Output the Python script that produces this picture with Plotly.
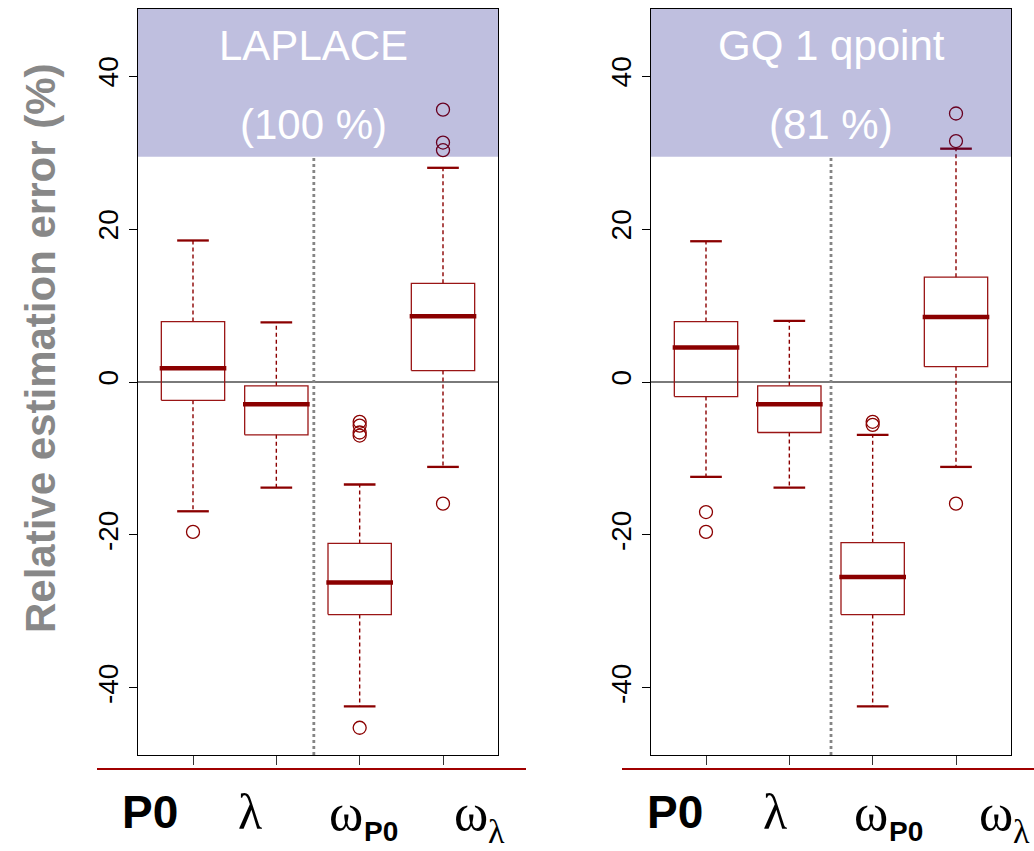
import plotly.graph_objects as go

W, H = 1034, 851

# ---------------- data ----------------
categories = ["P0", "λ", "ωP0", "ωλ"]
positions = [1, 2, 3, 4]
y_ticks = [-40, -20, 0, 20, 40]
y_tick_text = ["-40", "-20", "0", "20", "40"]

panel_titles = ["LAPLACE", "GQ 1 qpoint"]
panel_rates = ["(100 %)", "(81 %)"]

lap_q1 = [-2.4, -6.9, -30.4, 1.5]
lap_med = [1.8, -2.9, -26.2, 8.6]
lap_q3 = [7.9, -0.5, -21.1, 12.9]
lap_lo = [-16.9, -13.8, -42.4, -11.1]
lap_hi = [18.5, 7.8, -13.4, 28.0]
lap_out = [[-19.6], [], [-5.2, -5.7, -6.6, -7.0, -45.2], [35.6, 31.3, 30.3, -15.9]]

gq_q1 = [-1.9, -6.6, -30.4, 2.0]
gq_med = [4.5, -2.9, -25.5, 8.5]
gq_q3 = [7.9, -0.5, -21.0, 13.7]
gq_lo = [-12.4, -13.8, -42.4, -11.1]
gq_hi = [18.4, 8.0, -6.9, 30.5]
gq_out = [[-17.0, -19.6], [], [-5.2, -5.6], [35.1, 31.5, -15.9]]

panels = [
    dict(q1=lap_q1, med=lap_med, q3=lap_q3, lo=lap_lo, hi=lap_hi, out=lap_out),
    dict(q1=gq_q1, med=gq_med, q3=gq_q3, lo=gq_lo, hi=gq_hi, out=gq_out),
]

# ---------------- styling ----------------
DARKRED = "#8B0000"
XR = [0.34, 4.66]
YR = [-48.76, 48.76]
HEADER_Y = 29.45
BOXW = 0.38
CAPW = 0.19


def px_x(p):
    return p / W


def px_y(p):
    return 1 - p / H


x_domains = [[px_x(138), px_x(498)], [px_x(651), px_x(1011)]]
y_domain = [px_y(755), px_y(9)]
divider_x = [2.45, 2.5]
header_text_x = [2.44, 2.5]

fig = go.Figure()

for k, d in enumerate(panels):
    xa = "x" if k == 0 else "x2"
    ya = "y" if k == 0 else "y2"
    bx, by, mx, my, wx, wy, cx, cy, ox, oy = [], [], [], [], [], [], [], [], [], []
    for i, p in enumerate(positions):
        bx += [p - BOXW, p + BOXW, p + BOXW, p - BOXW, p - BOXW, None]
        by += [d["q1"][i], d["q1"][i], d["q3"][i], d["q3"][i], d["q1"][i], None]
        mx += [p - BOXW - 0.02, p + BOXW + 0.02, None]
        my += [d["med"][i], d["med"][i], None]
        wx += [p, p, None, p, p, None]
        wy += [d["q3"][i], d["hi"][i], None, d["q1"][i], d["lo"][i], None]
        cx += [p - CAPW, p + CAPW, None, p - CAPW, p + CAPW, None]
        cy += [d["hi"][i], d["hi"][i], None, d["lo"][i], d["lo"][i], None]
        for v in d["out"][i]:
            ox.append(p)
            oy.append(v)
    fig.add_trace(go.Scatter(x=wx, y=wy, mode="lines", xaxis=xa, yaxis=ya,
                             line=dict(color=DARKRED, width=1.4, dash="4px,3px"),
                             hoverinfo="skip", showlegend=False))
    fig.add_trace(go.Scatter(x=cx, y=cy, mode="lines", xaxis=xa, yaxis=ya,
                             line=dict(color=DARKRED, width=2.3),
                             hoverinfo="skip", showlegend=False))
    fig.add_trace(go.Scatter(x=bx, y=by, mode="lines", xaxis=xa, yaxis=ya,
                             line=dict(color="#9a1515", width=1.3),
                             hoverinfo="skip", showlegend=False))
    fig.add_trace(go.Scatter(x=mx, y=my, mode="lines", xaxis=xa, yaxis=ya,
                             line=dict(color=DARKRED, width=4.5),
                             hoverinfo="skip", showlegend=False))
    fig.add_trace(go.Scatter(x=ox, y=oy, mode="markers", xaxis=xa, yaxis=ya,
                             marker=dict(symbol="circle-open", size=13,
                                         color=DARKRED, line=dict(width=1.3, color=DARKRED)),
                             hoverinfo="skip", showlegend=False))

    # zero line
    fig.add_shape(type="line", xref=xa, yref=ya, x0=XR[0], x1=XR[1], y0=0, y1=0,
                  line=dict(color="#7a7a7a", width=1.8), layer="below")
    # dotted divider
    fig.add_shape(type="line", xref=xa, yref=ya, x0=divider_x[k], x1=divider_x[k],
                  y0=YR[0], y1=HEADER_Y,
                  line=dict(color="#858585", width=2.8, dash="dot"), layer="below")
    # header band (semi-transparent navy on top)
    fig.add_shape(type="rect", xref=xa, yref=ya, x0=XR[0], x1=XR[1], y0=HEADER_Y, y1=YR[1],
                  fillcolor="rgba(0,0,128,0.25)", line=dict(width=0), layer="above")
    fig.add_annotation(xref=xa, yref=ya, x=header_text_x[k], y=44.0, text=panel_titles[k],
                       showarrow=False, xanchor="center", yanchor="middle",
                       font=dict(family="Liberation Sans", size=42, color="white"))
    fig.add_annotation(xref=xa, yref=ya, x=header_text_x[k], y=33.6, text=panel_rates[k],
                       showarrow=False, xanchor="center", yanchor="middle",
                       font=dict(family="Liberation Sans", size=42, color="white"))

axis_common_y = dict(range=YR, tickvals=y_ticks, ticktext=y_tick_text, tickangle=-90,
                     ticks="outside", ticklen=8, tickcolor="black", tickwidth=1,
                     showline=True, mirror=True, linecolor="black", linewidth=1,
                     showgrid=False, zeroline=False, domain=y_domain,
                     tickfont=dict(family="Liberation Sans", size=28, color="black"))
axis_common_x = dict(range=XR, tickvals=positions, showticklabels=False,
                     ticks="outside", ticklen=9, tickcolor="#333333", tickwidth=1,
                     showline=True, mirror=True, linecolor="black", linewidth=1,
                     showgrid=False, zeroline=False)

fig.update_layout(
    width=W, height=H, margin=dict(l=0, r=0, t=0, b=0),
    paper_bgcolor="white", plot_bgcolor="white", showlegend=False,
    xaxis=dict(domain=x_domains[0], anchor="y", **axis_common_x),
    yaxis=dict(anchor="x", **axis_common_y),
    xaxis2=dict(domain=x_domains[1], anchor="y2", **axis_common_x),
    yaxis2=dict(anchor="x2", **axis_common_y),
)

# y-axis title
fig.add_annotation(xref="paper", yref="paper", x=px_x(40), y=px_y(348),
                   text="<b>Relative estimation error (%)</b>", textangle=-90, showarrow=False,
                   xanchor="center", yanchor="middle",
                   font=dict(family="Liberation Sans", size=42, color="#888888"))

# red baselines under the panels
fig.add_shape(type="line", xref="paper", yref="paper", x0=px_x(97), x1=px_x(526),
              y0=px_y(769), y1=px_y(769), line=dict(color="#a00000", width=2.2))
fig.add_shape(type="line", xref="paper", yref="paper", x0=px_x(622), x1=1.0,
              y0=px_y(769), y1=px_y(769), line=dict(color="#a00000", width=2.2))

# category labels (main glyph + optional subscript), pixel positions per panel
SERIF = "Liberation Serif"
SANS = "Liberation Sans"
main_text = ["<b>P0</b>", "λ", "ω", "ω"]
main_font = [(SANS, 46), (SERIF, 50), (SERIF, 52), (SERIF, 52)]
main_x = [150, 250, 346, 471]
sub_text = [None, None, "<b>P0</b>", "λ"]
sub_font = [None, None, (SANS, 28), (SERIF, 34)]
sub_x = [None, None, 381, 496]
offsets = [0, 525]

for off in offsets:
    for i in range(len(categories)):
        fam, sz = main_font[i]
        fig.add_annotation(xref="paper", yref="paper", x=px_x(main_x[i] + off), y=px_y(812),
                           text=main_text[i], showarrow=False, xanchor="center", yanchor="middle",
                           font=dict(family=fam, size=sz, color="black"))
        if sub_text[i]:
            fam, sz = sub_font[i]
            fig.add_annotation(xref="paper", yref="paper", x=px_x(sub_x[i] + off), y=px_y(831),
                               text=sub_text[i], showarrow=False, xanchor="center", yanchor="middle",
                               font=dict(family=fam, size=sz, color="black"))

fig.write_html("out.html", config={"displayModeBar": False},
               post_script="document.body.style.margin='0';")
